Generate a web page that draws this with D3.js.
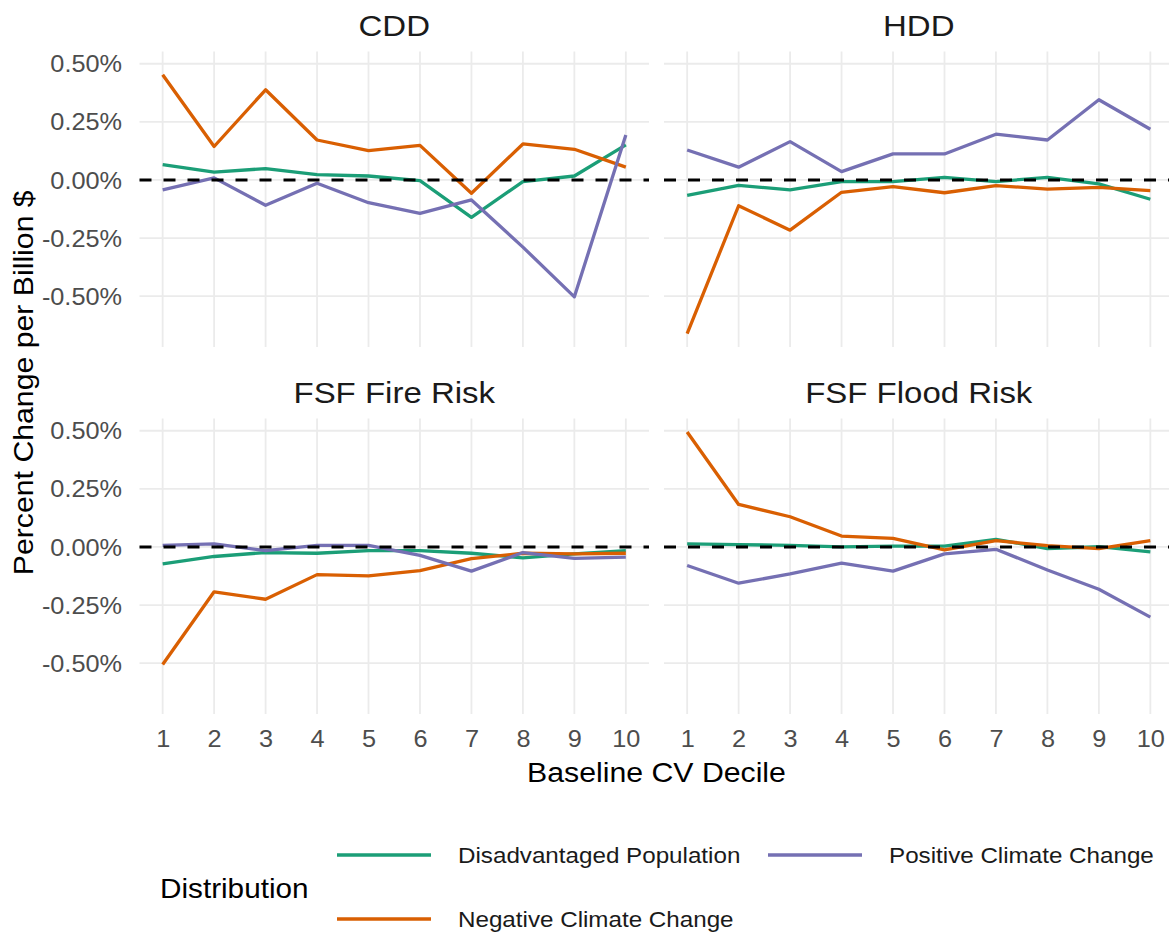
<!DOCTYPE html>
<html>
<head>
<meta charset="utf-8">
<script src="https://cdn.jsdelivr.net/npm/d3@7"></script>
<style>
  body { margin: 0; background: #fff; }
  svg { display: block; font-family: "Liberation Sans", Arial, Helvetica, sans-serif; }
</style>
</head>
<body>
<svg id="chart" width="1169" height="933"></svg>
<script>
// deciles on the x axis
var deciles = [1, 2, 3, 4, 5, 6, 7, 8, 9, 10];
var yTicks = [-0.5, -0.25, 0, 0.25, 0.5];
var facetTitles = ['CDD', 'HDD', 'FSF Fire Risk', 'FSF Flood Risk'];
var seriesNames = ['Disadvantaged Population', 'Negative Climate Change', 'Positive Climate Change'];

// percent change per billion $
var cddDisadvantaged = [0.066, 0.034, 0.049, 0.023, 0.017, -0.003, -0.161, -0.007, 0.017, 0.151];
var cddNegative = [0.453, 0.144, 0.388, 0.172, 0.126, 0.149, -0.057, 0.155, 0.132, 0.055];
var cddPositive = [-0.043, 0.009, -0.109, -0.014, -0.098, -0.144, -0.086, -0.289, -0.503, 0.194];

var hddDisadvantaged = [-0.066, -0.023, -0.043, -0.007, -0.007, 0.011, -0.007, 0.011, -0.017, -0.083];
var hddNegative = [-0.661, -0.111, -0.216, -0.053, -0.029, -0.055, -0.024, -0.039, -0.032, -0.046];
var hddPositive = [0.129, 0.055, 0.165, 0.036, 0.112, 0.112, 0.197, 0.172, 0.345, 0.218];

var fireDisadvantaged = [-0.073, -0.041, -0.024, -0.027, -0.016, -0.016, -0.027, -0.047, -0.030, -0.016];
var fireNegative = [-0.506, -0.193, -0.225, -0.119, -0.124, -0.102, -0.050, -0.027, -0.030, -0.027];
var firePositive = [0.007, 0.013, -0.016, 0.007, 0.007, -0.036, -0.104, -0.024, -0.049, -0.044];

var floodDisadvantaged = [0.013, 0.010, 0.007, 0.000, 0.004, 0.004, 0.033, -0.007, 0.001, -0.021];
var floodNegative = [0.495, 0.183, 0.130, 0.047, 0.037, -0.013, 0.027, 0.006, -0.007, 0.027];
var floodPositive = [-0.080, -0.156, -0.116, -0.070, -0.104, -0.030, -0.010, -0.099, -0.182, -0.302];

var facetSeries = [
    [cddDisadvantaged, cddNegative, cddPositive],
    [hddDisadvantaged, hddNegative, hddPositive],
    [fireDisadvantaged, fireNegative, firePositive],
    [floodDisadvantaged, floodNegative, floodPositive]
];

var colors = d3.scaleOrdinal().domain(seriesNames).range(['#1B9E77', '#D95F02', '#7570B3']);

var svg = d3.select('#chart');
var stretch = 1.1; // glyphs in the picture are a bit wider than Liberation Sans

var colLeft = [139.5, 664];
var rowTop = [51.5, 418.5];
var panelW = 509.5;
var panelH = 295.5;

// shared scales, ggplot style 5% expansion
var allValues = d3.merge(facetSeries.map(function (f) { return d3.merge(f); }));
var ext = d3.extent(allValues);
var pad = (ext[1] - ext[0]) * 0.05;
var xPad = (d3.max(deciles) - d3.min(deciles)) * 0.05;

function fmtPct(v) {
    return (v < 0 ? '-' : '') + Math.abs(v).toFixed(2) + '%';
}

facetTitles.forEach(function (title, i) {
    var col = i % 2, row = Math.floor(i / 2);
    var x = d3.scaleLinear()
        .domain([d3.min(deciles) - xPad, d3.max(deciles) + xPad])
        .range([0, panelW]);
    var y = d3.scaleLinear()
        .domain([ext[0] - pad, ext[1] + pad])
        .range([panelH, 0]);

    var g = svg.append('g')
        .attr('transform', 'translate(' + colLeft[col] + ',' + rowTop[row] + ')');

    // grid
    g.selectAll('.hgrid').data(yTicks).enter().append('line')
        .attr('x1', 0).attr('x2', panelW)
        .attr('y1', function (d) { return y(d); })
        .attr('y2', function (d) { return y(d); })
        .attr('stroke', '#EBEBEB').attr('stroke-width', 1.8);
    g.selectAll('.vgrid').data(deciles).enter().append('line')
        .attr('y1', 0).attr('y2', panelH)
        .attr('x1', function (d) { return x(d); })
        .attr('x2', function (d) { return x(d); })
        .attr('stroke', '#EBEBEB').attr('stroke-width', 1.8);

    // lines
    var line = d3.line()
        .x(function (d, j) { return x(deciles[j]); })
        .y(function (d) { return y(d); });
    g.selectAll('.series').data(facetSeries[i]).enter().append('path')
        .attr('d', line)
        .attr('fill', 'none')
        .attr('stroke', function (d, j) { return colors(seriesNames[j]); })
        .attr('stroke-width', 3.3)
        .attr('stroke-linejoin', 'round');

    // zero reference
    g.append('line')
        .attr('x1', 0).attr('x2', panelW)
        .attr('y1', y(0)).attr('y2', y(0))
        .attr('stroke', '#000').attr('stroke-width', 3)
        .attr('stroke-dasharray', '12,12');

    // strip title
    g.append('text')
        .attr('transform', 'translate(' + (panelW / 2) + ',-16) scale(' + stretch + ',1)')
        .attr('text-anchor', 'middle')
        .attr('font-size', 30)
        .attr('fill', '#1A1A1A')
        .text(title);

    if (col === 0) {
        var ya = g.append('g')
            .call(d3.axisLeft(y).tickValues(yTicks).tickSize(0).tickFormat(fmtPct));
        ya.select('.domain').remove();
        ya.selectAll('text')
            .attr('x', 0)
            .attr('dy', '0.35em')
            .attr('transform', 'translate(-17.5,0) scale(' + stretch + ',1)')
            .attr('font-size', 23)
            .attr('font-family', null)
            .attr('fill', '#4D4D4D');
    }
    if (row === 1) {
        var xa = g.append('g')
            .attr('transform', 'translate(0,' + panelH + ')')
            .call(d3.axisBottom(x).tickValues(deciles).tickSize(0).tickFormat(d3.format('d')));
        xa.select('.domain').remove();
        xa.selectAll('text')
            .attr('y', 0)
            .attr('dy', '0.35em')
            .attr('transform', 'translate(0,24.5) scale(' + stretch + ',1)')
            .attr('font-size', 23)
            .attr('font-family', null)
            .attr('fill', '#4D4D4D');
    }
});

// axis titles
svg.append('text')
    .attr('transform', 'translate(' + ((colLeft[0] + colLeft[1] + panelW) / 2) + ',772) scale(' + stretch + ',1)')
    .attr('text-anchor', 'middle')
    .attr('dy', '0.35em')
    .attr('font-size', 27.5)
    .attr('fill', '#000')
    .text('Baseline CV Decile');

svg.append('text')
    .attr('transform', 'translate(33,' + ((rowTop[0] + rowTop[1] + panelH) / 2) + ') rotate(-90) scale(' + stretch + ',1)')
    .attr('text-anchor', 'middle')
    .attr('font-size', 27.5)
    .attr('fill', '#000')
    .text('Percent Change per Billion $');

// legend
var legend = svg.append('g');
legend.append('text')
    .attr('transform', 'translate(160,889) scale(' + stretch + ',1)')
    .attr('dy', '0.35em')
    .attr('font-size', 27)
    .attr('fill', '#000')
    .text('Distribution');

var keyX = [337, 768];
var keyY = [855, 919];
var items = legend.selectAll('.item').data(seriesNames).enter().append('g')
    .attr('transform', function (d, i) {
        return 'translate(' + keyX[Math.floor(i / 2)] + ',' + keyY[i % 2] + ')';
    });
items.append('line')
    .attr('x1', 0).attr('x2', 94)
    .attr('stroke', function (d) { return colors(d); })
    .attr('stroke-width', 3.5);
items.append('text')
    .attr('transform', 'translate(121,0) scale(' + stretch + ',1)')
    .attr('dy', '0.35em')
    .attr('font-size', 22)
    .attr('fill', '#1A1A1A')
    .text(function (d) { return d; });
</script>
</body>
</html>
